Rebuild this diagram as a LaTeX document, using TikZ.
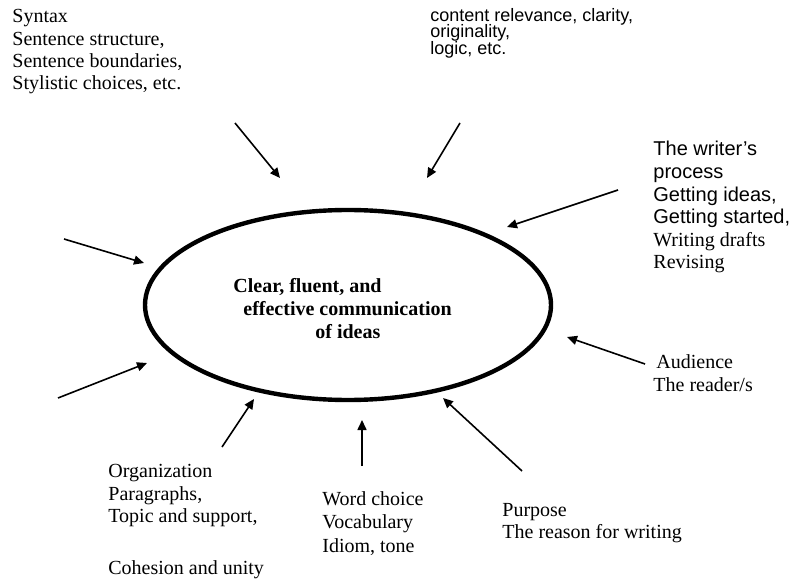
\documentclass[tikz,border=0pt]{standalone}
\usepackage{fontspec}
\setmainfont{Liberation Serif}
\setsansfont{Liberation Sans}
\usetikzlibrary{shapes.geometric,arrows.meta}
\newcommand\tightlines{\lineskiplimit=-20pt\relax}

\begin{document}
\begin{tikzpicture}[x=0.5pt,y=-0.5pt,
  lbl/.style = {anchor=north west, align=left, inner sep=0pt, font=\fontsize{10}{11.2}\selectfont},
  slbl/.style = {anchor=north west, align=left, inner sep=0pt, font=\sffamily\fontsize{9}{8.2}\selectfont\tightlines},
  goal/.style = {draw, ellipse, line width=2.2pt, minimum width=203pt, minimum height=95pt, inner sep=0pt},
  feed/.style = {line width=0.8pt, -{Triangle[length=5pt,width=4.5pt]}}]
  \useasboundingbox (0,0) rectangle (790,582);

  \node[goal](goal) at (348,305) {};
  \node[lbl, font=\bfseries\fontsize{10}{11.5}\selectfont](idea) at (233,278)
    {Clear, fluent, and\\\hspace*{5pt}effective communication\\\hspace*{41pt}of ideas};

  \node[lbl](syntax) at (12,9) {Syntax\\Sentence structure,\\Sentence boundaries,\\Stylistic choices, etc.};
  \node[slbl](content) at (430,8) {content relevance, clarity,\\originality,\\logic, etc.};
  \node[lbl, font=\fontsize{10}{11.3}\selectfont\sffamily](writer) at (653,141)
    {The writer's\\process\\Getting ideas,\\Getting started,\\\rmfamily Writing drafts\\\rmfamily Revising};
  \node[lbl, font=\fontsize{10}{11.5}\selectfont](audience) at (653,354) {\hspace*{1.5pt}Audience\\The reader/s};
  \node[lbl, font=\fontsize{10}{11.25}\selectfont](organization) at (108,464)
    {Organization\\Paragraphs,\\Topic and support,\\[14.75pt]Cohesion and unity};
  \node[lbl, font=\fontsize{10}{11.75}\selectfont](word) at (322,491) {Word choice\\Vocabulary\\Idiom, tone};
  \node[lbl, font=\fontsize{10}{10.75}\selectfont](purpose) at (502,503) {Purpose\\The reason for writing};

  \coordinate (syntax-t) at (235,123);   \coordinate (syntax-h) at (280,178);
  \coordinate (content-t) at (460,123);  \coordinate (content-h) at (427,178);
  \coordinate (writer-t) at (618,190);   \coordinate (writer-h) at (507,227);
  \coordinate (left1-t) at (64,239);     \coordinate (left1-h) at (144,263);
  \coordinate (audience-t) at (645,364); \coordinate (audience-h) at (567,337);
  \coordinate (left2-t) at (58,398);     \coordinate (left2-h) at (147,363);
  \coordinate (org-t) at (222,447);      \coordinate (org-h) at (254,399);
  \coordinate (word-t) at (362,466);     \coordinate (word-h) at (362,420);
  \coordinate (purpose-t) at (522,471);  \coordinate (purpose-h) at (443,398);

  \draw[feed] (syntax-t) -- (syntax-h); \draw[feed] (content-t) -- (content-h); \draw[feed] (writer-t) -- (writer-h);
  \draw[feed] (left1-t) -- (left1-h); \draw[feed] (audience-t) -- (audience-h); \draw[feed] (left2-t) -- (left2-h);
  \draw[feed] (org-t) -- (org-h); \draw[feed] (word-t) -- (word-h); \draw[feed] (purpose-t) -- (purpose-h);
\end{tikzpicture}
\end{document}
